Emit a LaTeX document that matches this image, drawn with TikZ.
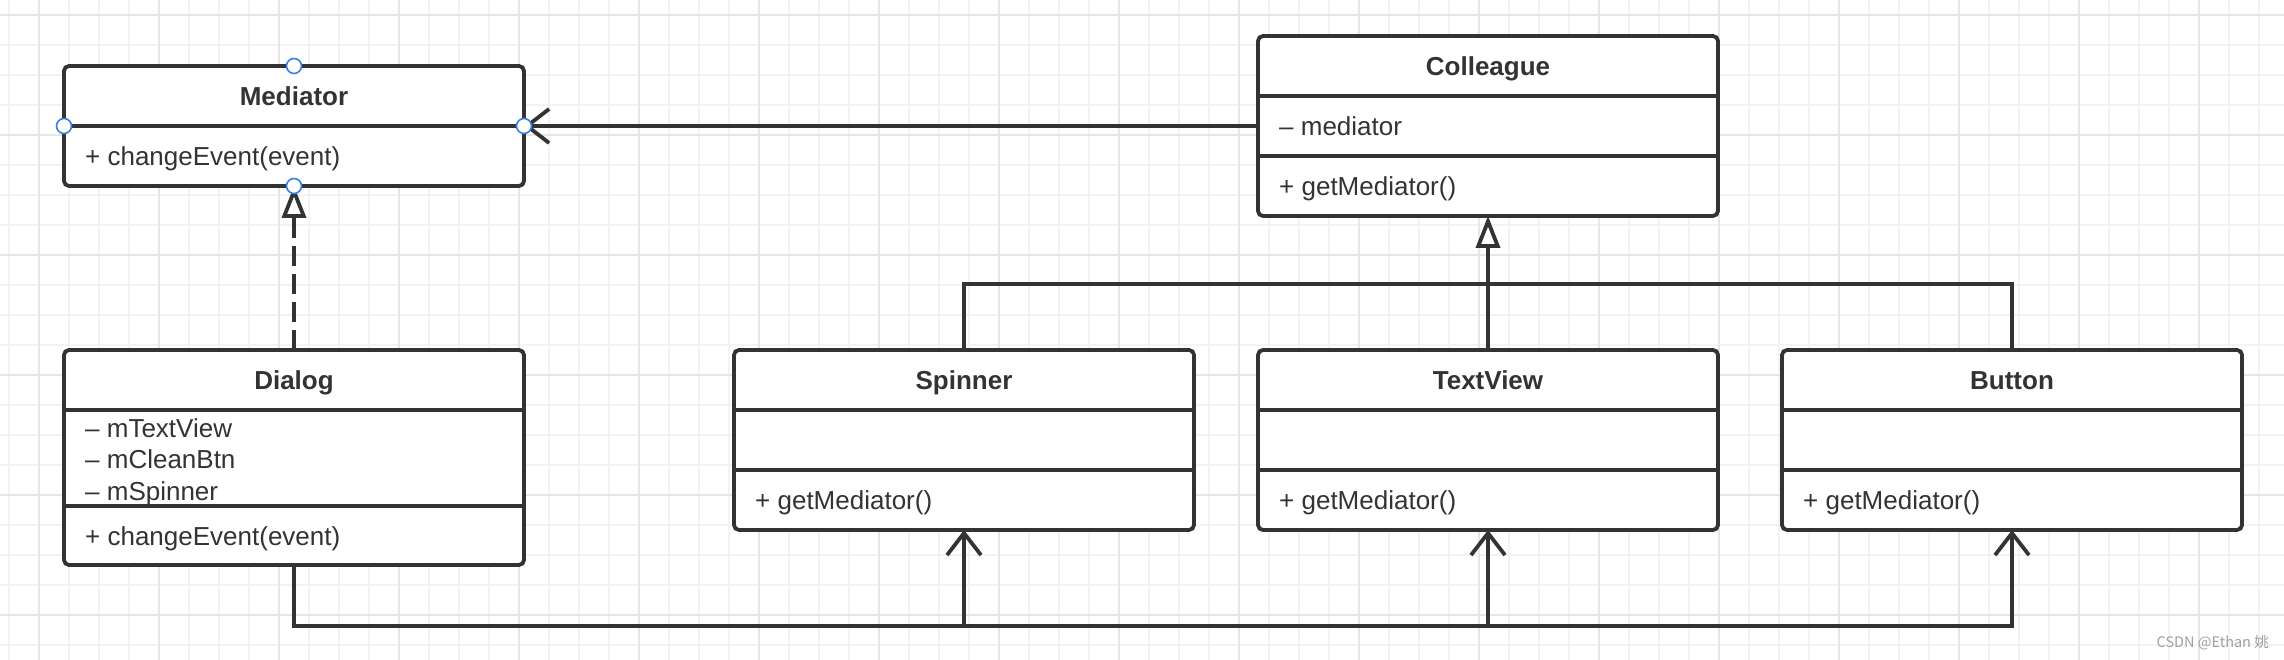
\documentclass[tikz,border=0pt]{standalone}
\usepackage{fontspec}
\setmainfont{Liberation Sans}
\newfontfamily\cjkfont{Noto Sans CJK SC}
\usetikzlibrary{arrows.meta}

\definecolor{umlline}{HTML}{333333}
\definecolor{umltext}{HTML}{333333}
\definecolor{gridminor}{HTML}{F3F3F3}
\definecolor{gridmajor}{HTML}{E6E6E6}
\definecolor{handleblue}{HTML}{3A7FE6}
\definecolor{markgrey}{HTML}{A0A0A0}

\tikzset{
	classbox/.style={draw=umlline, line width=3.8pt, fill=white, rounded corners=5pt,
		minimum width=460pt, inner sep=0pt, outer sep=0pt},
	classtitle/.style={font=\bfseries\fontsize{26}{30}\selectfont, text=umltext,
		text height=18.6pt, text depth=0pt, inner sep=0pt},
	member/.style={font=\fontsize{26}{30}\selectfont, text=umltext, anchor=west,
		text height=18.6pt, text depth=0pt, inner sep=0pt},
	divider/.style={draw=umlline, line width=3.8pt},
	link/.style={draw=umlline, line width=3.8pt},
	assoc/.style={link, -{Straight Barb[length=22pt,width=34pt,line width=3.8pt]}},
	generalize/.style={link, -{Triangle[length=32pt,width=24pt,line width=3.8pt,fill=white]}},
	realize/.style={generalize, dash pattern=on 20pt off 8pt},
	handle/.style={circle, draw=handleblue, fill=white, line width=1.6pt,
		minimum size=15pt, inner sep=0pt},
}

\begin{document}
\begin{tikzpicture}[x=1pt, y=1pt]
	
	\useasboundingbox (0,0) rectangle (2284,660);
	\fill[white] (0,0) rectangle (2284,660);
	
	% grid
	\foreach \gx in {9,39,...,2279} \draw[gridminor, line width=2pt] (\gx,0) -- (\gx,660);
	\foreach \gy in {15,45,...,645} \draw[gridminor, line width=2pt] (0,\gy) -- (2284,\gy);
	\foreach \gx in {39,159,...,2199} \draw[gridmajor, line width=2pt] (\gx,0) -- (\gx,660);
	\foreach \gy in {45,165,...,645} \draw[gridmajor, line width=2pt] (0,\gy) -- (2284,\gy);
	
	% Mediator
	\node[classbox, minimum height=120pt] (mediator) at (294,534) {};
	\draw[divider] (mediator.west) -- (mediator.east);
	\node[classtitle] (mediatortitle) at (294,564) {Mediator};
	\node[member] (mediatorop) at (85,504) {+ changeEvent(event)};
	
	% Dialog
	\node[classbox, minimum height=215pt] (dialog) at (294,202.5) {};
	\draw[divider] (dialog.west |- 0,250) -- (dialog.east |- 0,250);
	\draw[divider] (dialog.west |- 0,154) -- (dialog.east |- 0,154);
	\node[classtitle] (dialogtitle) at (294,280) {Dialog};
	\node[member] (dialogattra) at (85,232) {– mTextView};
	\node[member] (dialogattrb) at (85,201) {– mCleanBtn};
	\node[member] (dialogattrc) at (85,169) {– mSpinner};
	\node[member] (dialogop) at (85,124) {+ changeEvent(event)};
	
	% Colleague
	\node[classbox, minimum height=180pt] (colleague) at (1488,534) {};
	\draw[divider] (colleague.west |- 0,564) -- (colleague.east |- 0,564);
	\draw[divider] (colleague.west |- 0,504) -- (colleague.east |- 0,504);
	\node[classtitle] (colleaguetitle) at (1488,594) {Colleague};
	\node[member] (colleagueattr) at (1279,534) {– mediator};
	\node[member] (colleagueop) at (1279,474) {+ getMediator()};
	
	% Spinner
	\node[classbox, minimum height=180pt] (spinner) at (964,220) {};
	\draw[divider] (spinner.west |- 0,250) -- (spinner.east |- 0,250);
	\draw[divider] (spinner.west |- 0,190) -- (spinner.east |- 0,190);
	\node[classtitle] (spinnertitle) at (964,280) {Spinner};
	\node[member] (spinnerop) at (755,160) {+ getMediator()};
	
	% TextView
	\node[classbox, minimum height=180pt] (textview) at (1488,220) {};
	\draw[divider] (textview.west |- 0,250) -- (textview.east |- 0,250);
	\draw[divider] (textview.west |- 0,190) -- (textview.east |- 0,190);
	\node[classtitle] (textviewtitle) at (1488,280) {TextView};
	\node[member] (textviewop) at (1279,160) {+ getMediator()};
	
	% Button
	\node[classbox, minimum height=180pt] (button) at (2012,220) {};
	\draw[divider] (button.west |- 0,250) -- (button.east |- 0,250);
	\draw[divider] (button.west |- 0,190) -- (button.east |- 0,190);
	\node[classtitle] (buttontitle) at (2012,280) {Button};
	\node[member] (buttonop) at (1803,160) {+ getMediator()};
	
	% connectors
	\coordinate (genbus) at (1488,376);
	\coordinate (assocbus) at (1488,34);
	
	\draw[assoc] (colleague.west) -- (mediator.east);
	\draw[realize] (dialog.north) -- (mediator.south);
	
	\draw[link] (spinner.north) |- (genbus) -| (button.north);
	\draw[generalize] (textview.north) -- (colleague.south);
	
	\draw[assoc] (dialog.south) |- (assocbus) -| (button.south);
	\draw[assoc] (spinner.south |- assocbus) -- (spinner.south);
	\draw[assoc] (textview.south |- assocbus) -- (textview.south);
	
	% handles on Mediator
	\node[handle] (handlen) at (mediator.north) {};
	\node[handle] (handles) at (mediator.south) {};
	\node[handle] (handlew) at (mediator.west) {};
	\node[handle] (handlee) at (mediator.east) {};
	
	\node[anchor=east, inner sep=0pt, text=markgrey, font=\cjkfont\fontsize{14.5}{16}\selectfont]
		(watermark) at (2269,17) {CSDN @Ethan 姚};
	
\end{tikzpicture}
\end{document}
